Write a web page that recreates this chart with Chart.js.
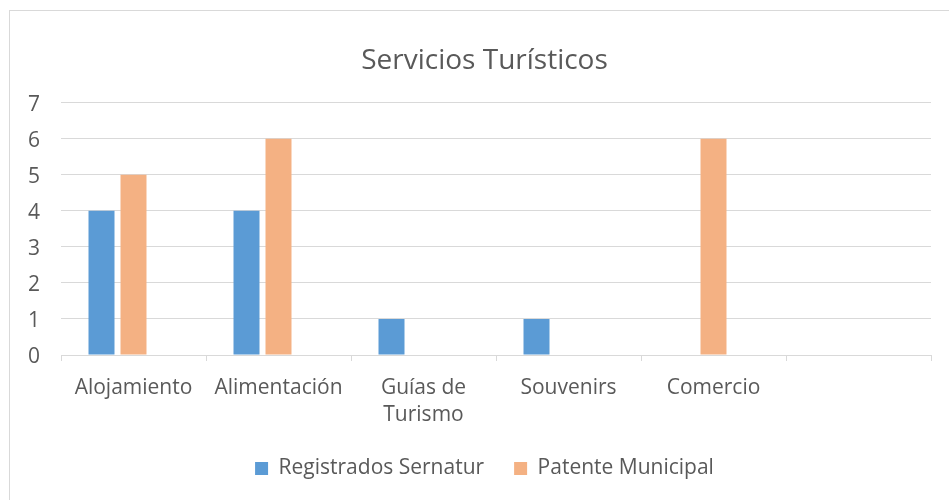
<!DOCTYPE html>
<html>
<head>
<meta charset="utf-8">
<script src="https://cdn.jsdelivr.net/npm/chart.js@4"></script>
<style>
  body { margin: 0; background: #fff; }
  #marco { position: absolute; left: 9px; top: 10px; width: 960px; height: 520px; border: 1.5px solid #d9d9d9; box-sizing: border-box; }
  #contenedor { position: absolute; left: 0; top: 0; width: 949px; height: 500px; }
</style>
</head>
<body>
<div id="marco"></div>
<div id="contenedor"><canvas id="bar_chart"></canvas></div>
<script>
const categorias = ["Alojamiento", "Alimentación", ["Guías de", "Turismo"], "Souvenirs", "Comercio", ""];
const registradosSernatur = [4, 4, 1, 1, 0, null];
const patenteMunicipal = [5, 6, 0, 0, 6, null];
const serieVacia = [null, null, null, null, null, null];
const ticksY = [0, 1, 2, 3, 4, 5, 6, 7];

const fuente = "'Open Sans', sans-serif";
const gris = "#595959";

window.onload = () => {
  const ctx = document.getElementById("bar_chart").getContext("2d");
  const chart = new Chart(ctx, {
    type: "bar",
    data: {
      labels: categorias,
      datasets: [
        { label: "Registrados Sernatur", data: registradosSernatur, backgroundColor: "#5B9BD5" },
        { label: "Patente Municipal", data: patenteMunicipal, backgroundColor: "#F4B183" },
        // serie vacia, deja el hueco a la derecha de cada grupo como en Excel
        { label: "", data: serieVacia, backgroundColor: "rgba(0,0,0,0)" }
      ]
    },
    options: {
      responsive: true,
      maintainAspectRatio: false,
      animation: false,
      categoryPercentage: 0.662,
      barPercentage: 0.8125,
      layout: { padding: { left: 38, right: 18, top: 0, bottom: 11 } },
      scales: {
        x: {
          grid: { drawOnChartArea: false, drawTicks: true, tickLength: 6, color: "#d9d9d9" },
          border: { color: "#d9d9d9", width: 1 },
          ticks: { color: gris, font: { family: fuente, size: 21, lineHeight: 1.3 }, padding: 13, maxRotation: 0, autoSkip: false },
          afterFit: (scale) => { scale.height = 73; }
        },
        y: {
          min: 0,
          max: 7,
          afterBuildTicks: (scale) => { scale.ticks = ticksY.map((v) => ({ value: v })); },
          grid: { color: "#d9d9d9", lineWidth: 1, drawTicks: false },
          border: { display: false },
          // mirror para que las etiquetas no se recorten fuera del eje
          ticks: { color: gris, font: { family: fuente, size: 21 }, mirror: true, padding: -33, labelOffset: 2 },
          afterFit: (scale) => { scale.width = 23; }
        }
      },
      plugins: {
        title: {
          display: true,
          text: "Servicios Turísticos",
          color: gris,
          font: { family: fuente, size: 28, weight: "normal" },
          padding: { top: 44, bottom: 25 }
        },
        legend: {
          position: "bottom",
          labels: {
            color: gris,
            font: { family: fuente, size: 21 },
            boxWidth: 13,
            boxHeight: 13,
            padding: 30,
            filter: (item) => item.text !== ""
          }
        },
        tooltip: { enabled: false }
      }
    }
  });
};
</script>
</body>
</html>
